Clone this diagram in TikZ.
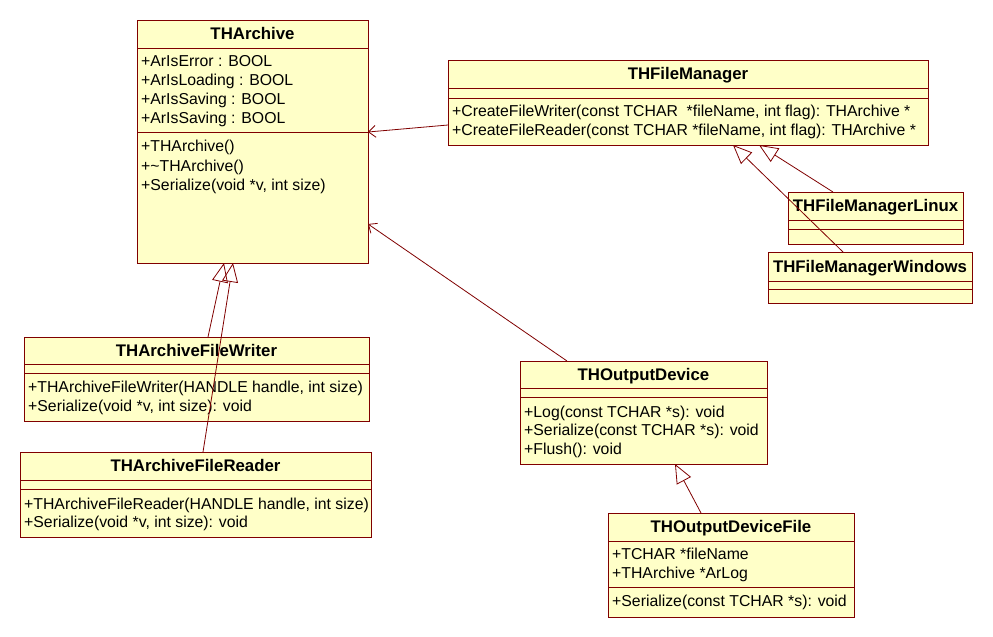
\documentclass[tikz,border=0pt]{standalone}
\usepackage{fontspec}
\setmainfont{Liberation Sans}
\usetikzlibrary{arrows.meta,calc}
\definecolor{umlline}{RGB}{128,0,0}
\definecolor{umlfill}{RGB}{255,255,200}
\begin{document}
\begin{tikzpicture}[x=1pt,y=-1pt,
 cls/.style={draw=umlline, fill=umlfill, line width=1pt, inner sep=0pt, outer sep=0pt, anchor=north west},
 sep/.style={draw=umlline, line width=1pt},
 ttl/.style={font=\bfseries\fontsize{16.8}{19}\selectfont, inner sep=0pt, anchor=base},
 mem/.style={font=\fontsize{15.8}{18}\selectfont, inner sep=0pt, anchor=base west},
 inh/.style={draw=umlline, line width=0.8pt, -{Triangle[open, length=19pt, width=16pt, line width=0.8pt]}},
 assoc/.style={draw=umlline, line width=0.8pt, -{Straight Barb[length=7pt, width=12pt, line width=0.8pt]}}
]
\fill[white] (0,0) rectangle (993,637);
\useasboundingbox (0,0) rectangle (993,637);

% THArchive
\node[cls, minimum width=231pt, minimum height=243pt] (arch) at (137,20) {};
\draw[sep] (137,48) -- (368,48);
\draw[sep] (137,132) -- (368,132);
\node[ttl] (archT) at (252.5,39.5) {THArchive};
\node[mem] (archA1) at (141,66.5) {+ArIsError : BOOL};
\node[mem] (archA2) at (141,85.5) {+ArIsLoading : BOOL};
\node[mem] (archA3) at (141,104.5) {+ArIsSaving : BOOL};
\node[mem] (archA4) at (141,123.5) {+ArIsSaving : BOOL};
\node[mem] (archM1) at (141,151.5) {+THArchive()};
\node[mem] (archM2) at (141,171) {+\textasciitilde THArchive()};
\node[mem] (archM3) at (141,190.5) {+Serialize(void *v, int size)};

% THFileManager
\node[cls, minimum width=480pt, minimum height=85pt] (fm) at (448,60) {};
\draw[sep] (448,88) -- (928,88);
\draw[sep] (448,98) -- (928,98);
\node[ttl] (fmT) at (688,79.5) {THFileManager};
\node[mem] (fmM1) at (452,116.5) {+CreateFileWriter(const TCHAR\ \ *fileName, int flag): THArchive *};
\node[mem] (fmM2) at (452,135.5) {+CreateFileReader(const TCHAR *fileName, int flag): THArchive *};

% THFileManagerLinux
\node[cls, minimum width=175pt, minimum height=52pt] (linux) at (788,192) {};
\draw[sep] (788,220) -- (963,220);
\draw[sep] (788,229) -- (963,229);
\node[ttl] (linuxT) at (875.5,211.5) {THFileManagerLinux};

% THFileManagerWindows
\node[cls, minimum width=204pt, minimum height=51pt] (win) at (768,252) {};
\draw[sep] (768,281) -- (972,281);
\draw[sep] (768,289) -- (972,289);
\node[ttl] (winT) at (870,272) {THFileManagerWindows};

% THArchiveFileWriter
\node[cls, minimum width=345pt, minimum height=84pt] (writer) at (24,337) {};
\draw[sep] (24,364) -- (369,364);
\draw[sep] (24,373) -- (369,373);
\node[ttl] (writerT) at (196.5,356) {THArchiveFileWriter};
\node[mem] (writerM1) at (28,392.5) {+THArchiveFileWriter(HANDLE handle, int size)};
\node[mem] (writerM2) at (28,411.5) {+Serialize(void *v, int size): void};

% THArchiveFileReader
\node[cls, minimum width=351pt, minimum height=85pt] (reader) at (20,452) {};
\draw[sep] (20,480) -- (371,480);
\draw[sep] (20,489) -- (371,489);
\node[ttl] (readerT) at (195.5,471.5) {THArchiveFileReader};
\node[mem] (readerM1) at (24,509.5) {+THArchiveFileReader(HANDLE handle, int size)};
\node[mem] (readerM2) at (24,527.5) {+Serialize(void *v, int size): void};

% THOutputDevice
\node[cls, minimum width=247pt, minimum height=103pt] (od) at (520,361) {};
\draw[sep] (520,388) -- (767,388);
\draw[sep] (520,397) -- (767,397);
\node[ttl] (odT) at (643.5,380) {THOutputDevice};
\node[mem] (odM1) at (524,417.5) {+Log(const TCHAR *s): void};
\node[mem] (odM2) at (524,435.5) {+Serialize(const TCHAR *s): void};
\node[mem] (odM3) at (524,454.5) {+Flush(): void};

% THOutputDeviceFile
\node[cls, minimum width=246pt, minimum height=104pt] (odf) at (608,513) {};
\draw[sep] (608,541) -- (854,541);
\draw[sep] (608,587) -- (854,587);
\node[ttl] (odfT) at (731,532.5) {THOutputDeviceFile};
\node[mem] (odfA1) at (612,559.5) {+TCHAR *fileName};
\node[mem] (odfA2) at (612,578.5) {+THArchive *ArLog};
\node[mem] (odfM1) at (612,606.5) {+Serialize(const TCHAR *s): void};

% connectors
\draw[assoc] ($(fm.north west)+(0,65)$) -- ($(arch.north east)+(0,112)$);
\draw[assoc] ($(od.north west)+(47,0)$) -- ($(arch.north east)+(0,204)$);
\draw[inh] ($(writer.north west)+(184,0)$) -- ($(arch.south west)+(87,0)$);
\draw[inh] ($(reader.north west)+(183,0)$) -- ($(arch.south west)+(96,0)$);
\draw[inh] ($(linux.north west)+(45,0)$) -- ($(fm.south west)+(311,0)$);
\draw[inh] ($(win.north west)+(75,0)$) -- ($(fm.south west)+(285,0)$);
\draw[inh] ($(odf.north west)+(93,0)$) -- ($(od.south west)+(155,0)$);
\end{tikzpicture}
\end{document}
